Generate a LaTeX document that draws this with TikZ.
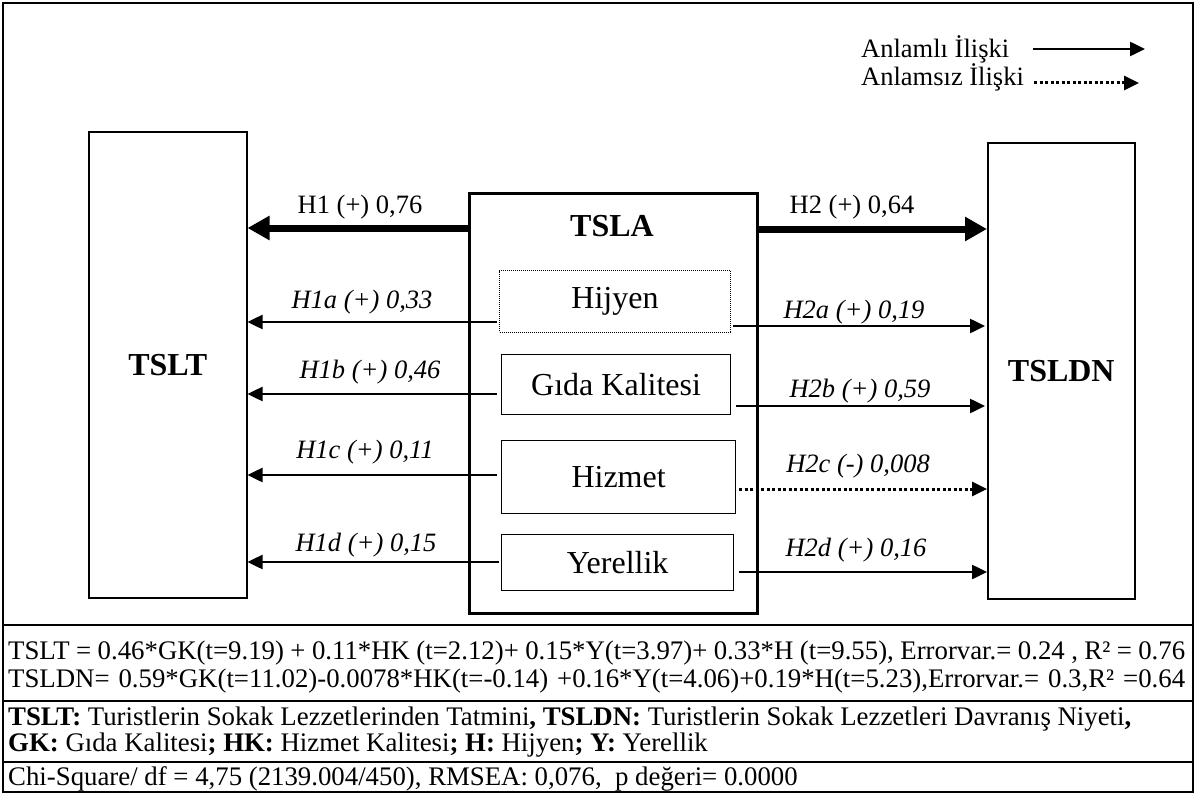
\documentclass[tikz,border=0pt]{standalone}
\usepackage{fontspec}
\setmainfont{Liberation Serif}
\usetikzlibrary{arrows.meta}
\begin{document}
\begin{tikzpicture}[x=1bp,y=-1bp,
  rule/.style={line width=2.5bp},
  bigbox/.style={draw, line width=1.5bp, inner sep=0pt, anchor=north west, font=\fontsize{32bp}{34bp}\selectfont\bfseries},
  inbox/.style={draw, line width=1.2bp, inner sep=0pt, anchor=north west, font=\fontsize{32bp}{34bp}\selectfont},
  lbl/.style={inner sep=0pt, anchor=base, font=\fontsize{26.5bp}{28bp}\selectfont},
  ilbl/.style={inner sep=0pt, anchor=base, font=\fontsize{26.5bp}{28bp}\selectfont\itshape},
  txt/.style={inner sep=0pt, anchor=base west, font=\fontsize{26.8bp}{28bp}\selectfont},
  thin/.style={line width=2.5bp, -{Triangle[length=15bp,width=14bp]}},
  thick/.style={line width=7bp, -{Triangle[length=22bp,width=23bp]}},
  dots/.style={line width=3bp, dash pattern=on 3bp off 2.5bp, -{Triangle[length=15bp,width=14bp]}}
]
\useasboundingbox (0,0) rectangle (1196,794);
\draw[rule] (3,3) rectangle (1193,792);
\draw[rule] (3,625) -- (1193,625);
\draw[rule] (3,701) -- (1193,701);
\draw[rule] (3,762) -- (1193,762);

% legend
\node[txt, font=\fontsize{26.5bp}{28bp}\selectfont] (leg1) at (861,58) {Anlamlı İlişki};
\node[txt, font=\fontsize{26.5bp}{28bp}\selectfont] (leg2) at (861,86) {Anlamsız İlişki};
\coordinate (l1a) at (1033,49);
\coordinate (l1b) at (1145,49);
\coordinate (l2a) at (1034,83);
\coordinate (l2b) at (1139,83);
\draw[thin] (l1a) -- (l1b);
\draw[dots] (l2a) -- (l2b);

% main boxes
\node[bigbox, minimum width=158bp, minimum height=466bp] (tslt) at (88,131) {TSLT};
\node[draw, line width=3bp, inner sep=0pt, anchor=north west, minimum width=288bp, minimum height=420bp] (tsla) at (468,192) {};
\node[inner sep=0pt, anchor=base, font=\fontsize{32bp}{34bp}\selectfont\bfseries] (tslat) at (612,236) {TSLA};
\node[bigbox, minimum width=147bp, minimum height=456bp] (tsldn) at (987,142) {TSLDN};

% inner boxes
\node[inbox, line width=1bp, dash pattern=on 1bp off 1bp, minimum width=231bp, minimum height=62bp] (hij) at (499,270) {Hijyen};
\node[inbox, minimum width=229bp, minimum height=60bp] (gida) at (501,354) {Gıda Kalitesi};
\node[inbox, minimum width=234bp, minimum height=73bp] (hiz) at (501,440) {Hizmet};
\node[inbox, minimum width=232bp, minimum height=56bp] (yer) at (501,534) {Yerellik};

% arrows to TSLT
\draw[thick] (tsla.west |- 0,228) -- (tslt.east |- 0,228);
\draw[thin] ([xshift=-2bp]hij.west |- 0,322) -- (tslt.east |- 0,322);
\draw[thin] ([xshift=-4bp]gida.west |- 0,394) -- (tslt.east |- 0,394);
\draw[thin] ([xshift=-4bp]hiz.west |- 0,475) -- (tslt.east |- 0,475);
\draw[thin] ([xshift=-2bp]yer.west |- 0,562) -- (tslt.east |- 0,562);

% arrows to TSLDN
\draw[thick] (tsla.east |- 0,229) -- (tsldn.west |- 0,229);
\draw[thin] ([xshift=2bp]hij.east |- 0,326) -- ([xshift=-2bp]tsldn.west |- 0,326);
\draw[thin] ([xshift=5bp]gida.east |- 0,406) -- ([xshift=-2bp]tsldn.west |- 0,406);
\draw[dots] ([xshift=3bp]hiz.east |- 0,489) -- (tsldn.west |- 0,489);
\draw[thin] ([xshift=5bp]yer.east |- 0,572) -- (tsldn.west |- 0,572);

% labels
\node[lbl] (h1) at (360,213) {H1 (+) 0,76};
\node[ilbl] (h1a) at (362,308) {H1a (+) 0,33};
\node[ilbl] (h1b) at (370,378) {H1b (+) 0,46};
\node[ilbl] (h1c) at (365,458) {H1c (+) 0,11};
\node[ilbl] (h1d) at (366,551) {H1d (+) 0,15};
\node[lbl] (h2) at (852,213) {H2 (+) 0,64};
\node[ilbl] (h2a) at (854,318) {H2a (+) 0,19};
\node[ilbl] (h2b) at (860,397) {H2b (+) 0,59};
\node[ilbl] (h2c) at (858,472) {H2c (-) 0,008};
\node[ilbl] (h2d) at (856,556) {H2d (+) 0,16};

% bottom text
\node[txt] (eq1) at (8,659) {\makebox[1177bp][s]{TSLT = 0.46*GK(t=9.19) + 0.11*HK (t=2.12)+ 0.15*Y(t=3.97)+ 0.33*H (t=9.55), Errorvar.= 0.24 , R² = 0.76}};
\node[txt] (eq2) at (8,687) {\makebox[1177bp][s]{TSLDN= 0.59*GK(t=11.02)-0.0078*HK(t=-0.14) +0.16*Y(t=4.06)+0.19*H(t=5.23),Errorvar.= 0.3,R² =0.64}};
\node[txt] (def1) at (8,725) {\textbf{TSLT:} Turistlerin Sokak Lezzetlerinden Tatmini\textbf{,} \textbf{TSLDN:} Turistlerin Sokak Lezzetleri Davranış Niyeti\textbf{,}};
\node[txt] (def2) at (8,751) {\textbf{GK:} Gıda Kalitesi\textbf{;} \textbf{HK:} Hizmet Kalitesi\textbf{;} \textbf{H:} Hijyen\textbf{;} \textbf{Y:} Yerellik};
\node[txt] (chi) at (8,785) {Chi-Square/ df = 4,75 (2139.004/450), RMSEA: 0,076,\ \ p değeri= 0.0000};
\end{tikzpicture}
\end{document}
